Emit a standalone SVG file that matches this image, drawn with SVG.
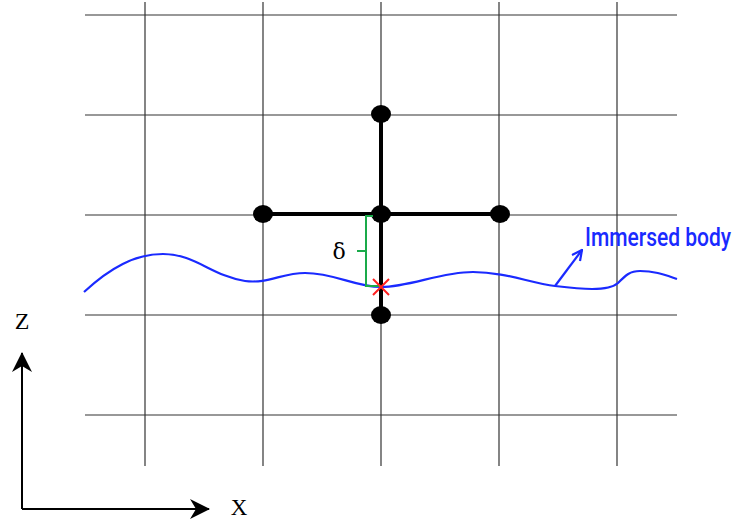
<svg xmlns="http://www.w3.org/2000/svg" width="737" height="525" viewBox="0 0 737 525">
<defs>
<style>
.grid{stroke:#333;stroke-width:1.2;fill:none}
.stencil{stroke:#000;stroke-width:4;fill:none}
.node{fill:#000}
.body{stroke:#1a2aff;stroke-width:2.2;fill:none}
.axis{stroke:#000;stroke-width:2;fill:none}
</style>
<marker id="ah" viewBox="0 0 20 20" refX="19" refY="10" markerWidth="22" markerHeight="20" markerUnits="userSpaceOnUse" orient="auto">
<path d="M0,0 L20,10 L0,20 L6,10 Z" fill="#000"/>
</marker>
<marker id="bh" viewBox="0 0 12 12" refX="11" refY="6" markerWidth="12" markerHeight="12" markerUnits="userSpaceOnUse" orient="auto">
<path d="M1,1 L11,6 L1,11" fill="none" stroke="#1a2aff" stroke-width="2.2"/>
</marker>
</defs>
<rect width="737" height="525" fill="#fff"/>
<g id="grid">
<line class="grid" x1="85" y1="15" x2="677" y2="15"/>
<line class="grid" x1="85" y1="115" x2="677" y2="115"/>
<line class="grid" x1="85" y1="215" x2="677" y2="215"/>
<line class="grid" x1="85" y1="315" x2="677" y2="315"/>
<line class="grid" x1="85" y1="415" x2="677" y2="415"/>
<line class="grid" x1="145" y1="2" x2="145" y2="466"/>
<line class="grid" x1="263" y1="2" x2="263" y2="466"/>
<line class="grid" x1="381" y1="2" x2="381" y2="466"/>
<line class="grid" x1="499" y1="2" x2="499" y2="466"/>
<line class="grid" x1="617" y1="2" x2="617" y2="466"/>
</g>
<g id="connectors">
<line class="stencil" x1="381" y1="115" x2="381" y2="315"/>
<line class="stencil" x1="263" y1="214" x2="500" y2="214"/>
</g>
<g id="node-top"><ellipse class="node" cx="381" cy="114" rx="10" ry="9"/></g>
<g id="node-left"><ellipse class="node" cx="263" cy="214" rx="10" ry="9"/></g>
<g id="node-center"><ellipse class="node" cx="381" cy="214" rx="10" ry="9"/></g>
<g id="node-right"><ellipse class="node" cx="500" cy="214" rx="10" ry="9"/></g>
<g id="node-bottom"><ellipse class="node" cx="381" cy="315" rx="10" ry="9"/></g>
<g id="immersed-body">
<path class="body" d="M84,292 C110,268 135,254 163,254 C195,254 212,276 245,281 C268,284 282,273 305,273 C335,273 355,287 381,287 C410,287 440,272 473,272 C505,272 530,283 555,286 C580,289 608,292 618,283 C626,275 630,271 640,271 C655,271 665,275 677,279"/>
<line class="body" x1="555" y1="286" x2="582" y2="250" marker-end="url(#bh)"/>
<text transform="translate(585,246) scale(1,1.25)" x="0" y="0" font-family="Roboto, 'Liberation Sans', sans-serif" font-weight="500" font-size="21" fill="#1a2aff">Immersed body</text>
</g>
<g id="delta">
<path d="M373,216 L366,216 L366,286 L380,286 M366,251 L357,251" stroke="#1aaa4a" stroke-width="2" fill="none"/>
<text x="339" y="259" font-family="'DejaVu Serif', 'Liberation Serif', serif" font-size="22" fill="#000" text-anchor="middle">δ</text>
</g>
<g id="ib-point">
<path d="M373,279 L389,295 M389,279 L373,295" stroke="#ff2020" stroke-width="2"/>
</g>
<g id="axes">
<path class="axis" d="M22,509 L22,353" marker-end="url(#ah)"/>
<path class="axis" d="M22,509 L209,509" marker-end="url(#ah)"/>
<text x="22" y="329" font-family="'Liberation Serif', serif" font-size="24" fill="#000" text-anchor="middle">Z</text>
<text x="239" y="515" font-family="'Liberation Serif', serif" font-size="23" fill="#000" text-anchor="middle">X</text>
</g>
</svg>
